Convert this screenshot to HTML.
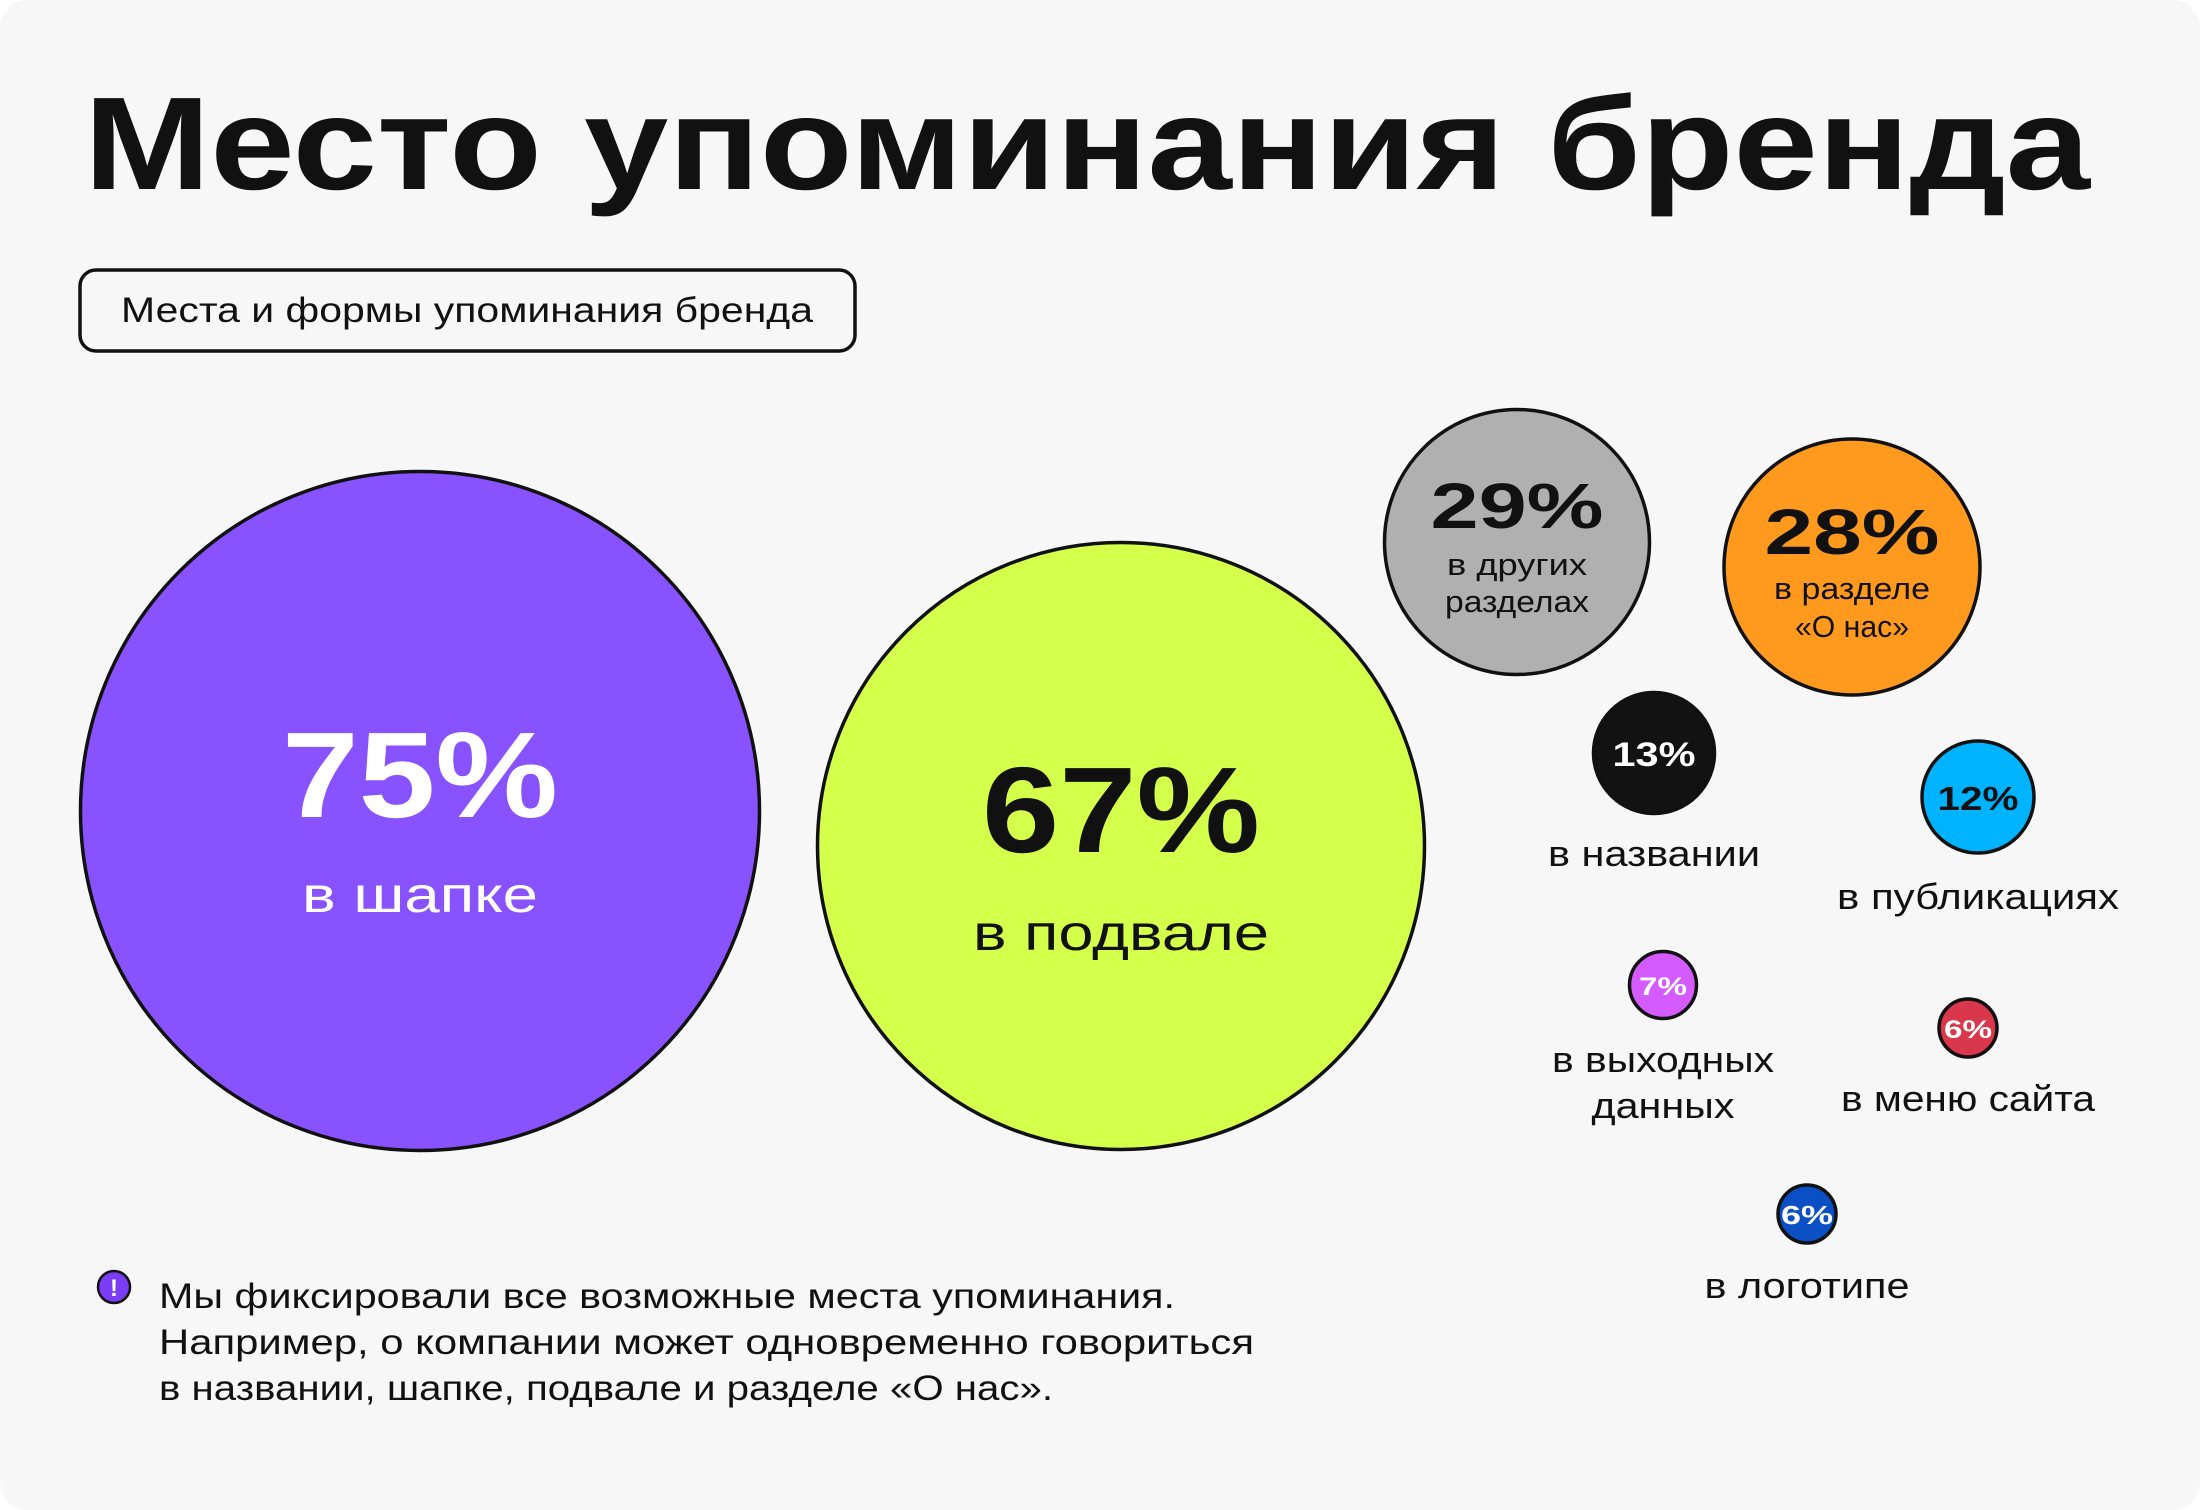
<!DOCTYPE html>
<html><head><meta charset="utf-8"><style>
html,body{margin:0;padding:0;background:#fff;}
svg{display:block;font-family:"Liberation Sans",sans-serif;}
</style></head><body>
<svg id="chart" width="2200" height="1510" viewBox="0 0 2200 1510" xmlns="http://www.w3.org/2000/svg">
<rect x="0" y="0" width="2200" height="1510" rx="28" fill="#f7f7f7"/>
<text x="84" y="189" font-size="132" font-weight="bold" fill="#111" textLength="2006" lengthAdjust="spacingAndGlyphs">Место упоминания бренда</text>
<g>
<rect x="80" y="270" width="775" height="81" rx="16" fill="none" stroke="#111" stroke-width="3.5"/>
<text x="121" y="322" font-size="35" fill="#111" textLength="692" lengthAdjust="spacingAndGlyphs">Места и формы упоминания бренда</text>
</g>
<g id="bubbles"></g>
<g>
<circle cx="114" cy="1287" r="16" fill="#7b3cf5" stroke="#111" stroke-width="2.5"/>
<text x="114" y="1296" font-size="24" font-weight="bold" fill="#fff" text-anchor="middle">!</text>
<text x="159" y="1308" font-size="35" fill="#111" textLength="1016" lengthAdjust="spacingAndGlyphs">Мы фиксировали все возможные места упоминания.</text>
<text x="159" y="1354" font-size="35" fill="#111" textLength="1095" lengthAdjust="spacingAndGlyphs">Например, о компании может одновременно говориться</text>
<text x="159" y="1400" font-size="35" fill="#111" textLength="894" lengthAdjust="spacingAndGlyphs">в названии, шапке, подвале и разделе «О нас».</text>
</g>
</svg>
<script>
const values = [75, 67, 29, 28, 13, 12, 7, 6, 6];
const labels = [["в шапке"], ["в подвале"], ["в других", "разделах"], ["в разделе", "«О нас»"], ["в названии"], ["в публикациях"], ["в выходных", "данных"], ["в меню сайта"], ["в логотипе"]];
const colors = ["#8952ff", "#d4ff4a", "#b0b0b0", "#ff9a1f", "#121212", "#00b3ff", "#d45cff", "#d9374b", "#0a4fc4"];
// layout (not data): centers, font sizes, text offsets
const layout = [
 {cx:420, cy:811, ns:122, nw:276, ny:6, tc:"#fff", inside:true, ls:50, ly:[101], lw:[236]},
 {cx:1121, cy:846, ns:122, nw:278, ny:6, tc:"#111", inside:true, ls:50, ly:[104], lw:[296]},
 {cx:1517, cy:542, ns:64, nw:173, ny:-14, tc:"#111", inside:true, ls:31, ly:[33, 70], lw:[140, 144]},
 {cx:1852, cy:567, ns:64, nw:175, ny:-13, tc:"#111", inside:true, ls:31, ly:[32, 70], lw:[156, 114]},
 {cx:1654, cy:753, ns:34, nw:83, ny:13, tc:"#fff", inside:false, ls:36, ly:[113], lw:[212]},
 {cx:1978, cy:797, ns:33, nw:81, ny:13, tc:"#111", inside:false, ls:36, ly:[112], lw:[282]},
 {cx:1663, cy:985, ns:25, nw:48, ny:10, tc:"#fff", inside:false, ls:36, ly:[87, 133], lw:[222, 143]},
 {cx:1968, cy:1028, ns:25, nw:48, ny:10, tc:"#fff", inside:false, ls:36, ly:[83], lw:[254]},
 {cx:1807, cy:1214, ns:26, nw:52, ny:10, tc:"#fff", inside:false, ls:36, ly:[84], lw:[205]}
];
function rScale(v){ return 4.5 * v + 2; }
const NS = "http://www.w3.org/2000/svg";
const g = document.getElementById("bubbles");
values.forEach((v, i) => {
  const L = layout[i];
  const grp = document.createElementNS(NS, "g");
  
  
  const c = document.createElementNS(NS, "circle");
  
  
  c.setAttribute("cx", L.cx); c.setAttribute("cy", L.cy); c.setAttribute("r", rScale(v));
  c.setAttribute("fill", colors[i]); c.setAttribute("stroke", "#111"); c.setAttribute("stroke-width", "3.5");
  grp.appendChild(c);
  const t = document.createElementNS(NS, "text");
  
  
  t.setAttribute("x", L.cx); t.setAttribute("y", L.cy + L.ny);
  t.setAttribute("text-anchor", "middle"); t.setAttribute("font-size", L.ns); t.setAttribute("font-weight", "bold");
  t.setAttribute("fill", L.tc); t.setAttribute("textLength", L.nw); t.setAttribute("lengthAdjust", "spacingAndGlyphs");
  t.textContent = v + "%";
  grp.appendChild(t);
  labels[i].forEach((line, j) => {
    const lt = document.createElementNS(NS, "text");
    
    
    lt.setAttribute("x", L.cx); lt.setAttribute("y", L.cy + L.ly[j]);
    lt.setAttribute("text-anchor", "middle"); lt.setAttribute("font-size", L.ls);
    lt.setAttribute("fill", L.inside && i === 0 ? "#fff" : "#111");
    lt.setAttribute("textLength", L.lw[j]); lt.setAttribute("lengthAdjust", "spacingAndGlyphs");
    lt.textContent = line;
    grp.appendChild(lt);
  });
  g.appendChild(grp);
});
</script>
</body></html>
